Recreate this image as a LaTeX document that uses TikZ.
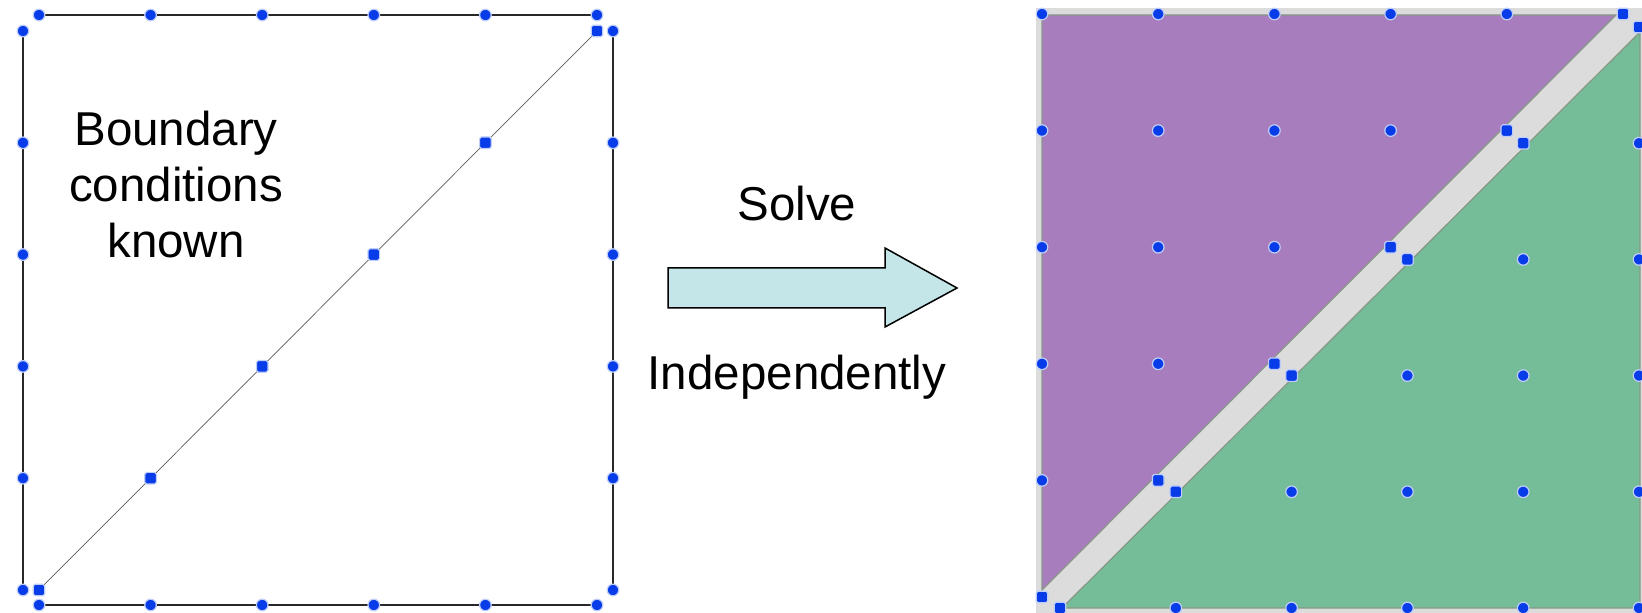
\documentclass[tikz,border=0pt]{standalone}
\usepackage{fontspec}
\setmainfont{Liberation Sans}
\definecolor{dotblue}{RGB}{8,60,232}
\definecolor{halo}{RGB}{190,205,250}
\definecolor{purp}{RGB}{167,125,190}
\definecolor{grn}{RGB}{117,189,152}
\definecolor{band}{RGB}{220,220,220}
\definecolor{rim}{RGB}{135,152,135}
\definecolor{arrowfill}{RGB}{197,230,232}
\begin{document}
\begin{tikzpicture}[x=0.5pt,y=-0.5pt,
  edgeline/.style={draw={rgb,255:red,40;green,40;blue,40}, line width=0.75pt},
  diagline/.style={draw={rgb,255:red,90;green,90;blue,90}, line width=0.35pt},
  dotc/.style={fill=dotblue, draw=halo, line width=0.6pt},
  lbl/.style={font=\fontsize{23.75pt}{28pt}\selectfont, inner sep=0pt},
  arrowbox/.style={fill=arrowfill, draw=black, line width=0.75pt, line join=miter},
  tri/.style={draw=rim, line width=0.6pt}]
\useasboundingbox (0,0) rectangle (1642,613);

% ---------- left square ----------
\coordinate (tl1) at (39,15);  \coordinate (tr1) at (597,15);
\coordinate (bl1) at (39,605); \coordinate (br1) at (597,605);
\coordinate (lt) at (23,31);   \coordinate (lb) at (23,590);
\coordinate (rt) at (613,31);  \coordinate (rb) at (613,590);
\coordinate (d0) at (39,590);  \coordinate (d1) at (597,31);
\draw[edgeline] (tl1) -- (tr1);
\draw[edgeline] (bl1) -- (br1);
\draw[edgeline] (lt) -- (lb);
\draw[edgeline] (rt) -- (rb);
\draw[diagline] (d0) -- (d1);

\foreach \i in {0,...,5}{
  \path[dotc] (39+111.6*\i,15) circle[radius=2.9pt];
  \path[dotc] (39+111.6*\i,605) circle[radius=2.9pt];
  \path[dotc] (23,31+111.8*\i) circle[radius=2.9pt];
  \path[dotc] (613,31+111.8*\i) circle[radius=2.9pt];
  \path[dotc, rounded corners=0.9pt] (39+111.6*\i,590-111.8*\i) ++(-2.9pt,-2.9pt) rectangle ++(5.8pt,5.8pt);
}

\node[lbl, align=center] (bc) at (176,185) {Boundary\\conditions\\known};

% ---------- arrow ----------
\draw[arrowbox] (668,268) -- (885,268) -- (885,248) -- (957,288) -- (885,327) -- (885,308) -- (668,308) -- cycle;
\node[lbl, anchor=base] (solve) at (797,221) {Solve};
\node[lbl, anchor=base] (indep) at (797,390) {Independently};

% ---------- right square ----------
\fill[band] (1036,8) rectangle (1642,613);
\filldraw[tri, fill=purp] (1042,15) -- (1616,15) -- (1042,590) -- cycle;
\filldraw[tri, fill=grn] (1062,608) -- (1640,32) -- (1640,608) -- cycle;

\foreach \j in {0,...,5}{
  \foreach \i in {0,...,5}{
    \pgfmathtruncatemacro\s{\i+\j}
    \ifnum\s<5
      \path[dotc] (1042+116.2*\i,14+116.6*\j) circle[radius=2.9pt];
    \fi
    \ifnum\s=5
      \path[dotc, rounded corners=0.9pt] (1042+116.2*\i,14+116.6*\j) ++(-2.9pt,-2.9pt) rectangle ++(5.8pt,5.8pt);
      \path[dotc, rounded corners=0.9pt] (1060+115.8*\i,27+116.2*\j) ++(-2.9pt,-2.9pt) rectangle ++(5.8pt,5.8pt);
    \fi
    \ifnum\s>5
      \path[dotc] (1060+115.8*\i,27+116.2*\j) circle[radius=2.9pt];
    \fi
  }
}
\end{tikzpicture}
\end{document}
